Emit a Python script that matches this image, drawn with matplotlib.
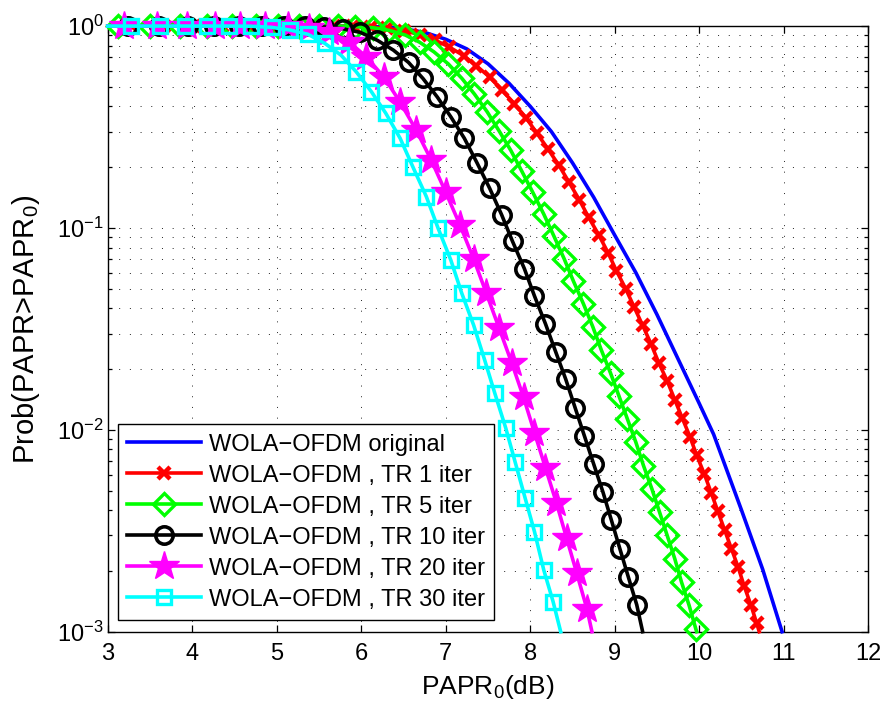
import matplotlib
matplotlib.use("Agg")
import matplotlib.pyplot as plt
from matplotlib.ticker import LogLocator, NullFormatter

plt.rcParams['font.family'] = ['Liberation Sans', 'DejaVu Sans']
plt.rcParams['mathtext.fontset'] = 'custom'
plt.rcParams['mathtext.rm'] = 'Liberation Sans'
plt.rcParams['mathtext.it'] = 'Liberation Sans:italic'

# CCDF of PAPR (x in dB, y = Prob(PAPR > PAPR0))
x_orig = [3.0, 5.5, 6.0, 6.25, 6.5, 6.75, 7.0, 7.25, 7.5, 7.75, 8.0, 8.25, 8.5,
          8.75, 9.0, 9.25, 9.5, 9.75, 10.0, 10.17, 10.5, 10.75, 10.98]
p_orig = [1.0, 1.0, 0.997, 0.99, 0.97, 0.93, 0.86, 0.77, 0.65, 0.52, 0.40, 0.30, 0.21,
          0.142, 0.092, 0.060, 0.0372, 0.0224, 0.0135, 0.0095, 0.0040, 0.00204, 0.001]

x_tr1 = [3.0, 3.29, 3.67, 4.02, 4.35, 4.65, 4.93, 5.19, 5.44, 5.68, 5.90, 6.11, 6.31,
         6.51, 6.69, 6.87, 7.04, 7.21, 7.36, 7.52, 7.66, 7.81, 7.95, 8.08, 8.21, 8.34,
         8.46, 8.58, 8.69, 8.81, 8.92, 9.02, 9.13, 9.23, 9.33, 9.43, 9.52, 9.62, 9.71,
         9.80, 9.89, 9.97, 10.06, 10.14, 10.22, 10.30, 10.38, 10.46, 10.53, 10.61,
         10.68, 10.71]
p_tr1 = [1.0, 1.0, 1.0, 1.0, 1.0, 1.0, 1.0, 1.0, 1.0, 0.999, 0.996, 0.989, 0.974,
         0.947, 0.907, 0.853, 0.788, 0.714, 0.636, 0.559, 0.484, 0.413, 0.351, 0.294,
         0.246, 0.204, 0.168, 0.138, 0.113, 0.0925, 0.0754, 0.0613, 0.0499, 0.0405,
         0.0329, 0.0266, 0.0215, 0.0175, 0.0141, 0.0114, 0.00924, 0.00747, 0.00604,
         0.00489, 0.00395, 0.00319, 0.00258, 0.00209, 0.00169, 0.00136, 0.00110, 0.001]

x_tr5 = [3.0, 3.12, 3.50, 3.85, 4.17, 4.47, 4.75, 5.02, 5.26, 5.50, 5.72, 5.93, 6.14,
         6.33, 6.52, 6.69, 6.86, 7.03, 7.19, 7.34, 7.49, 7.63, 7.77, 7.90, 8.03, 8.16,
         8.28, 8.40, 8.51, 8.63, 8.74, 8.84, 8.95, 9.05, 9.15, 9.25, 9.34, 9.44, 9.53,
         9.62, 9.71, 9.79, 9.88, 9.96, 9.97]
p_tr5 = [1.0, 1.0, 1.0, 1.0, 1.0, 1.0, 1.0, 1.0, 1.0, 1.0, 0.999, 0.994, 0.981,
         0.952, 0.903, 0.832, 0.745, 0.649, 0.551, 0.460, 0.376, 0.303, 0.242, 0.191,
         0.150, 0.117, 0.0911, 0.0705, 0.0546, 0.0420, 0.0324, 0.0249, 0.0191, 0.0147,
         0.0113, 0.00867, 0.00665, 0.00509, 0.00391, 0.00300, 0.00230, 0.00176,
         0.00135, 0.00103, 0.001]

x_tr10 = [3.0, 3.24, 3.61, 3.95, 4.26, 4.55, 4.83, 5.09, 5.33, 5.56, 5.78, 5.99, 6.19,
          6.38, 6.56, 6.73, 6.90, 7.06, 7.22, 7.37, 7.52, 7.66, 7.79, 7.93, 8.05, 8.18,
          8.30, 8.42, 8.53, 8.64, 8.75, 8.86, 8.96, 9.06, 9.16, 9.26, 9.33]
p_tr10 = [1.0, 1.0, 1.0, 1.0, 1.0, 1.0, 1.0, 1.0, 0.998, 0.99, 0.97, 0.93, 0.85,
          0.76, 0.66, 0.55, 0.445, 0.355, 0.278, 0.210, 0.157, 0.1165, 0.0858, 0.0629,
          0.0460, 0.0335, 0.0244, 0.0178, 0.0129, 0.00935, 0.00678, 0.00492, 0.00357,
          0.00258, 0.00187, 0.00136, 0.001]

x_tr20 = [3.0, 3.19, 3.58, 3.94, 4.27, 4.57, 4.86, 5.13, 5.38, 5.62, 5.85, 6.06, 6.27,
          6.46, 6.65, 6.83, 7.00, 7.17, 7.33, 7.48, 7.63, 7.78, 7.92, 8.05, 8.18, 8.31,
          8.43, 8.55, 8.67, 8.73]
p_tr20 = [1.0, 1.0, 1.0, 1.0, 1.0, 1.0, 1.0, 0.998, 0.983, 0.934, 0.838, 0.704, 0.557,
          0.420, 0.305, 0.216, 0.150, 0.103, 0.0702, 0.0475, 0.0320, 0.0215, 0.0145,
          0.00968, 0.00648, 0.00434, 0.00291, 0.00195, 0.00130, 0.001]

x_tr30 = [3.0, 3.28, 3.62, 3.91, 4.17, 4.44, 4.70, 4.94, 5.16, 5.37, 5.57, 5.76, 5.94,
          6.12, 6.29, 6.46, 6.61, 6.77, 6.91, 7.06, 7.19, 7.33, 7.46, 7.58, 7.71, 7.82,
          7.94, 8.05, 8.16, 8.27, 8.36]
p_tr30 = [1.0, 1.0, 1.0, 1.0, 1.0, 1.0, 0.998, 0.985, 0.955, 0.91, 0.82, 0.718, 0.594,
          0.473, 0.37, 0.278, 0.201, 0.143, 0.0995, 0.0693, 0.0474, 0.033, 0.0222,
          0.0152, 0.0102, 0.00695, 0.00458, 0.00313, 0.00202, 0.00141, 0.001]

labels = ['WOLA\u2212OFDM original',
          'WOLA\u2212OFDM , TR 1 iter',
          'WOLA\u2212OFDM , TR 5 iter',
          'WOLA\u2212OFDM , TR 10 iter',
          'WOLA\u2212OFDM , TR 20 iter',
          'WOLA\u2212OFDM , TR 30 iter']

fig = plt.figure(figsize=(8.84, 7.06), dpi=100)
ax = fig.add_axes([0.1219, 0.1052, 0.8603, 0.8579])

lw = 2.6
# first and last points only pin the line to the axes edges, no marker there
common = dict(lw=lw, clip_on=False, zorder=3, markevery=slice(1, -1))
ax.plot(x_orig, p_orig, color='#0000ff', lw=lw, clip_on=False, zorder=3, label=labels[0])
ax.plot(x_tr1, p_tr1, color='#ff0000', marker='x', ms=8.5, mew=3.2, label=labels[1], **common)
ax.plot(x_tr5, p_tr5, color='#00ff00', marker='D', ms=11, mew=2.4, mfc='none',
        label=labels[2], **common)
ax.plot(x_tr10, p_tr10, color='k', marker='o', ms=12.5, mew=2.6, mfc='none',
        label=labels[3], **common)
ax.plot(x_tr20, p_tr20, color='#ff00ff', marker='*', ms=22, mew=1.0,
        label=labels[4], **common)
ax.plot(x_tr30, p_tr30, color='#00ffff', marker='s', ms=10, mew=2.4, mfc='none',
        label=labels[5], **common)

ax.set_yscale('log')
ax.set_xlim(3, 12)
ax.set_ylim(1e-3, 1)
ax.set_xticks(range(3, 13))
ax.yaxis.set_major_locator(LogLocator(base=10, numticks=10))
ax.yaxis.set_minor_locator(LogLocator(base=10, subs=range(2, 10), numticks=20))
ax.yaxis.set_minor_formatter(NullFormatter())

dots = (0, (1, 10))
ax.grid(True, which='major', axis='both', ls=dots, lw=0.7, color='#222222')
ax.grid(True, which='minor', axis='y', ls=dots, lw=0.7, color='#222222')
ax.set_axisbelow(True)

ax.tick_params(which='both', direction='in', top=True, right=True, width=0.9,
               labelsize=17)
ax.tick_params(which='major', length=5)
ax.tick_params(which='minor', length=3)
ax.tick_params(axis='x', pad=8)
ax.tick_params(axis='y', pad=3)
for s in ax.spines.values():
    s.set_linewidth(1.0)

ax.set_xlabel('PAPR$_0$(dB)', fontsize=19, labelpad=6)
ax.set_ylabel('Prob(PAPR>PAPR$_0$)', fontsize=21, labelpad=11)

leg = ax.legend(loc='lower left', bbox_to_anchor=(0.0134, 0.0193), borderaxespad=0,
                fontsize=17, numpoints=1, fancybox=False, framealpha=1,
                edgecolor='k', handlelength=3.1, handletextpad=0.35,
                labelspacing=0.38, borderpad=0.4)
leg.get_frame().set_linewidth(1.0)

fig.savefig('out.png', dpi=100)
